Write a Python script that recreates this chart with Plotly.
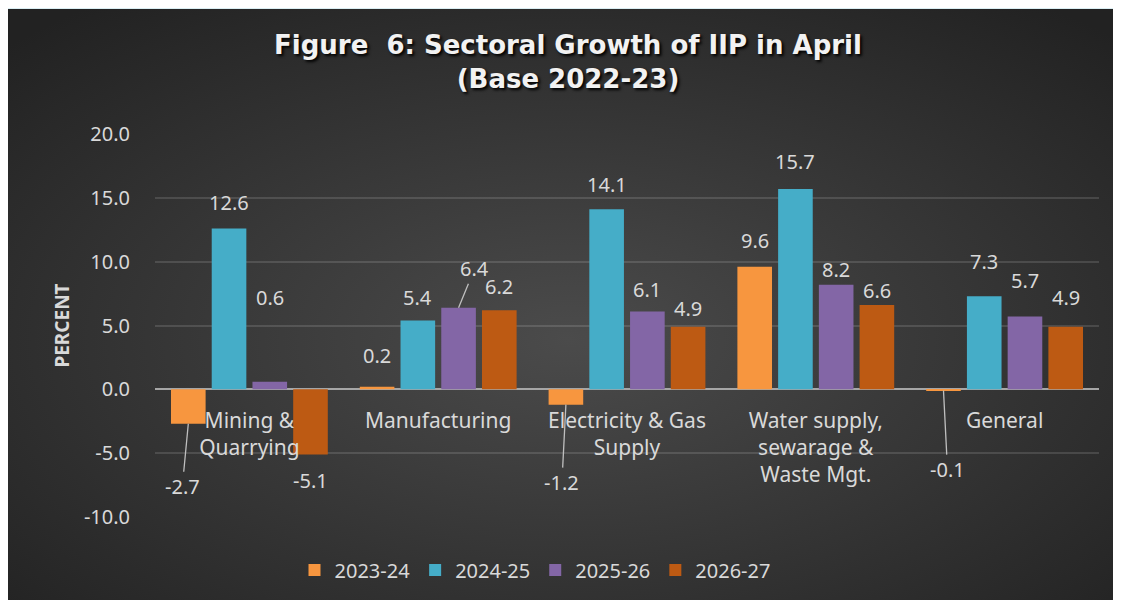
import base64
import plotly.graph_objects as go

# data
categories = ["Mining &<br>Quarrying", "Manufacturing", "Electricity & Gas<br>Supply",
              "Water supply,<br>sewarage &<br>Waste Mgt.", "General"]
series_names = ["2023-24", "2024-25", "2025-26", "2026-27"]
v_2324 = [-2.7, 0.2, -1.2, 9.6, -0.1]
v_2425 = [12.6, 5.4, 14.1, 15.7, 7.3]
v_2526 = [0.6, 6.4, 6.1, 8.2, 5.7]
v_2627 = [-5.1, 6.2, 4.9, 6.6, 4.9]
y_ticks = [-10, -5, 0, 5, 10, 15, 20]

series_values = [v_2324, v_2425, v_2526, v_2627]
colors = ["#F7963F", "#45ADC8", "#8366A6", "#BD5A13"]

# label placement (pixel offsets from bar end), leader lines where Excel drew them
label_dy = [
    [None, -26, -84, 26],
    [-31, -23, None, -24],
    [None, -25, -22, -18],
    [-26, -27, -15, -15],
    [None, -35, -36, -29],
]
leaders = {(0, 0): (-6, 63), (1, 2): (16, -39), (2, 0): (-4, 78), (4, 0): (4, 79)}

W, H = 1121, 600
OFF = 8  # page body margin: figure pixel = screen pixel - 8
ml, mr, mt, mb = 155 - OFF, 30, 134 - OFF, 91
bargap = 0.137
plot_w = W - ml - mr
plot_h = H - mt - mb
pitch = plot_w / len(categories) * (1 - bargap) / 4

TXT = "#d9d9d9"
FONT = "Noto Sans"

fig = go.Figure()
for name, vals, col in zip(series_names, series_values, colors):
    fig.add_trace(go.Bar(x=categories, y=vals, name=name, marker_color=col,
                         marker_line_width=0))

annos = []
for ci, cat in enumerate(categories):
    for si, vals in enumerate(series_values):
        v = vals[ci]
        xs = (si - 1.5) * pitch
        if (ci, si) in leaders:
            ax, ay = leaders[(ci, si)]
            annos.append(dict(x=cat, y=v, xref="x", yref="y", xshift=xs, text=f"{v:.1f}",
                              showarrow=True, arrowhead=0, arrowwidth=1.3, arrowcolor="#bfbfbf",
                              ax=ax, ay=ay, standoff=0, font=dict(size=20, color=TXT, family=FONT)))
        else:
            annos.append(dict(x=cat, y=v, xref="x", yref="y", xshift=xs, yshift=-label_dy[ci][si],
                              text=f"{v:.1f}", showarrow=False,
                              font=dict(size=20, color=TXT, family=FONT)))

# dark radial-gradient panel behind the chart
svg = ('<svg xmlns="http://www.w3.org/2000/svg" width="1121" height="600">'
       '<defs><radialGradient id="g" cx="50%" cy="55%" r="70%">'
       '<stop offset="0" stop-color="#4b4b4b"/><stop offset="1" stop-color="#222222"/>'
       '</radialGradient></defs><rect width="100%" height="100%" fill="url(#g)"/></svg>')
src = "data:image/svg+xml;base64," + base64.b64encode(svg.encode()).decode()


def px_x(p):
    return (p - OFF - ml) / plot_w


def px_y(p):
    return (H - mb - (p - OFF)) / plot_h


fig.update_layout(
    width=W, height=H,
    margin=dict(l=ml, r=mr, t=mt, b=mb, autoexpand=False),
    paper_bgcolor="#daeef3",
    plot_bgcolor="rgba(0,0,0,0)",
    barmode="group", bargap=bargap, bargroupgap=0.15,
    font=dict(family=FONT, color=TXT, size=20),
    title=dict(text="Figure  6: Sectoral Growth of IIP in April<br>(Base 2022-23)",
               x=(568 - OFF) / W, xanchor="center", y=1 - 46 / H, yanchor="top",
               font=dict(size=26, color="#f2f2f2", family="DejaVu Sans", weight="bold",
                         shadow="2px 2px 3px #000")),
    images=[dict(source=src, xref="paper", yref="paper", x=px_x(8), y=px_y(9),
                 sizex=W / plot_w, sizey=H / plot_h, sizing="stretch",
                 xanchor="left", yanchor="top", layer="below")],
    xaxis=dict(anchor="free", position=1 / 3, showline=False, showgrid=False,
               ticks="outside", ticklen=12, tickcolor="rgba(0,0,0,0)",
               tickfont=dict(size=21, color=TXT)),
    yaxis=dict(range=[-10, 20], tickvals=y_ticks, ticktext=[f"{t:.1f}" for t in y_ticks],
               gridcolor="rgba(255,255,255,0.13)", gridwidth=1.5,
               zeroline=True, zerolinecolor="#a6a6a6", zerolinewidth=2,
               ticks="outside", ticklen=20, tickcolor="rgba(0,0,0,0)",
               tickfont=dict(size=20, color=TXT),
               title=dict(text="PERCENT", standoff=9,
                          font=dict(size=19, color=TXT, weight="bold"))),
    legend=dict(orientation="h", x=px_x(535), xanchor="center", y=px_y(570), yanchor="middle",
                font=dict(size=20, color=TXT), bgcolor="rgba(0,0,0,0)"),
    annotations=annos,
)

fig.write_html("out.html")
